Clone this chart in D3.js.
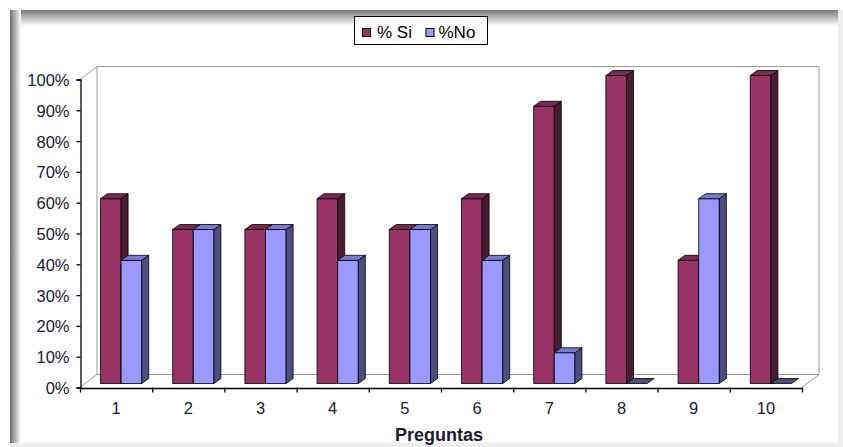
<!DOCTYPE html>
<html><head><meta charset="utf-8">
<script src="https://cdn.jsdelivr.net/npm/d3@7"></script>
<style>body{margin:0;background:#fff}svg{display:block;font-family:"Liberation Sans",Arial,sans-serif}</style>
</head><body>
<svg id="c" width="843" height="447"></svg>
<script>
const categories = ["1","2","3","4","5","6","7","8","9","10"];
const siValues = [0.6,0.5,0.5,0.6,0.5,0.6,0.9,1.0,0.4,1.0];
const noValues = [0.4,0.5,0.5,0.4,0.5,0.4,0.1,0.0,0.6,0.0];
const yTicks = [0,0.1,0.2,0.3,0.4,0.5,0.6,0.7,0.8,0.9,1.0];
const seriesNames = ["% Si","%No"];
const xTitle = "Preguntas";

const svg = d3.select("#c");
const defs = svg.append("defs");
const gT = defs.append("linearGradient").attr("id","gT").attr("x1",0).attr("y1",0).attr("x2",0).attr("y2",1);
gT.append("stop").attr("offset","0%").attr("stop-color","#7a7a7a");
gT.append("stop").attr("offset","100%").attr("stop-color","#fff");
const gL = defs.append("linearGradient").attr("id","gL").attr("x1",0).attr("y1",0).attr("x2",1).attr("y2",0);
gL.append("stop").attr("offset","0%").attr("stop-color","#6e6e6e");
gL.append("stop").attr("offset","100%").attr("stop-color","#fff");

// frame
svg.append("rect").attr("x",10).attr("y",10).attr("width",833).attr("height",437).attr("fill","#eeeeee");
svg.append("rect").attr("x",10).attr("y",10).attr("width",828).attr("height",433).attr("fill","#fff");
svg.append("rect").attr("x",10).attr("y",10).attr("width",828).attr("height",16).attr("fill","url(#gT)");
svg.append("rect").attr("x",10).attr("y",10).attr("width",11).attr("height",433).attr("fill","url(#gL)");

const x0 = 80, x1 = 802, yBottom = 387.5, yTop = 79.5;
const x = d3.scaleBand().domain(categories).range([x0,x1]).paddingInner(0).paddingOuter(0);
const y = d3.scaleLinear().domain([0,1]).range([yBottom,yTop]);
const DX = 17, DY = -13;

// walls
const wall = svg.append("g").attr("fill","#fff").attr("stroke","#9a9a9a").attr("stroke-width",1);
wall.append("path").attr("d",`M${x0+DX},${y(1)+DY}H${x1+DX}V${y(0)+DY}H${x0+DX}Z`);
wall.append("path").attr("d",`M${x0},${y(1)}L${x0+DX},${y(1)+DY}`);
wall.append("path").attr("d",`M${x0},${y(0)}L${x0+DX},${y(0)+DY}`);
wall.append("path").attr("d",`M${x1},${y(0)}L${x1+DX},${y(0)+DY}`);

// bars
const bw = x.bandwidth()/3.5;
const fo = {dx:5, dy:-4}, bd = {dx:7, dy:-5};
const colors = [
  {front:"#993366", top:"#7a2952", side:"#4c1a33"},
  {front:"#9999ff", top:"#7a7acc", side:"#4d4d80"}
];
const bars = svg.append("g").attr("stroke","#000").attr("stroke-width",0.8).attr("stroke-linejoin","round");
categories.forEach((c,i)=>{
  [siValues[i], noValues[i]].forEach((v,s)=>{
    const xl = x(c) + 0.75*bw + s*bw + fo.dx;
    const xr = xl + bw;
    const yb = y(0) + fo.dy;
    const yt = y(v) + fo.dy;
    const col = colors[s];
    if (v > 0) {
      bars.append("rect").attr("x",xl).attr("y",yt).attr("width",bw).attr("height",yb-yt).attr("fill",col.front);
      bars.append("path").attr("fill",col.side)
        .attr("d",`M${xr},${yt}L${xr+bd.dx},${yt+bd.dy}L${xr+bd.dx},${yb+bd.dy}L${xr},${yb}Z`);
    }
    bars.append("path").attr("fill", v>0 ? col.top : col.side)
      .attr("d",`M${xl},${yt}L${xl+bd.dx},${yt+bd.dy}L${xr+bd.dx},${yt+bd.dy}L${xr},${yt}Z`);
  });
});

// y axis
const ya = svg.append("g").attr("transform",`translate(${x0+0.5},0)`)
  .call(d3.axisLeft(y).tickValues(yTicks).tickFormat(d3.format(".0%")).tickSize(4).tickPadding(7));
ya.select(".domain").attr("stroke","#000").attr("stroke-width",1.3);
ya.selectAll(".tick line").attr("stroke","#000").attr("stroke-width",1.3);
ya.selectAll(".tick text").attr("font-size","16.5px").attr("font-family","'Liberation Sans',Arial,sans-serif").attr("fill","#1a1a33").attr("dy","0.36em");

// x axis
const xa = svg.append("g").attr("transform",`translate(0,${yBottom+0.5})`)
  .call(d3.axisBottom(x).tickSize(0).tickPadding(14));
xa.select(".domain").attr("stroke","#000").attr("stroke-width",1.3);
xa.selectAll(".tick text").attr("font-size","16.5px").attr("font-family","'Liberation Sans',Arial,sans-serif").attr("fill","#1a1a33");
svg.append("g").selectAll("line").data(categories.map((c,i)=>x(c)).concat([x1])).join("line")
  .attr("x1",d=>d+0.5).attr("x2",d=>d+0.5).attr("y1",yBottom).attr("y2",yBottom+5)
  .attr("stroke","#000").attr("stroke-width",1.3);

svg.append("text").attr("x",439).attr("y",441).attr("text-anchor","middle")
  .attr("font-size","18px").attr("font-weight","bold").attr("fill","#1a1a33").text(xTitle);

// legend
const lg = svg.append("g");
lg.append("rect").attr("x",354.5).attr("y",16.5).attr("width",133).attr("height",28).attr("fill","#fff").attr("stroke","#000");
const legX = [[362.5,377],[426,438.5]];
seriesNames.forEach((n,s)=>{
  lg.append("rect").attr("x",legX[s][0]).attr("y",28.5).attr("width",8).attr("height",8)
    .attr("fill",colors[s].front).attr("stroke","#000");
  lg.append("text").attr("x",legX[s][1]).attr("y",37.5).attr("font-size","17px").attr("fill","#000").text(n);
});
</script>
</body></html>
